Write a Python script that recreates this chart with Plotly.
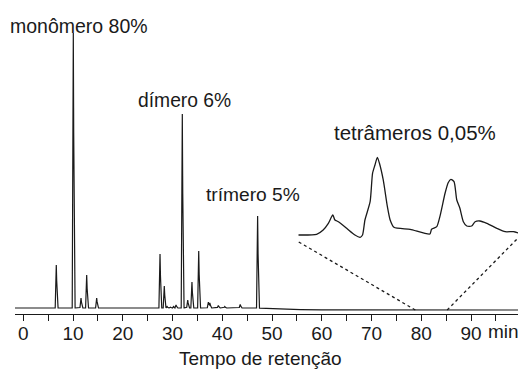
import numpy as np
import plotly.graph_objects as go

# ---------------- data ----------------
peak_times = [6.63, 10.05, 11.6, 12.74, 14.75, 27.48, 28.34, 28.9, 29.6, 30.2, 30.7,
              31.96, 33.05, 33.9, 35.26, 37.2, 37.5, 39.2, 40.5, 43.6, 47.1]
peak_heights = [43, 275, 10, 33, 10, 54, 22, 1.5, 1, 1.5, 3,
                194, 8, 26, 57, 6, 5, 2.5, 1.5, 3.5, 92]

baseline_t = [-1.7, 47.0, 50.0, 55.0, 62.0, 100.0]
baseline_v = [0.0, 0.0, -0.8, -1.5, -2.0, -2.0]

inset_t = [78.80, 79.33, 79.52, 79.67, 79.80, 79.86, 79.96, 80.20, 80.44, 80.59,
           80.66, 80.73, 80.88, 80.95, 81.02, 81.09, 81.15, 81.26, 81.38, 81.46,
           81.57, 82.04, 82.61, 82.66, 82.81, 82.90, 83.05, 83.14, 83.22, 83.31,
           83.39, 83.48, 83.58, 83.68, 83.82, 83.92, 84.06, 84.26, 84.55, 84.79,
           85.03, 85.20]
inset_v = [6.7, 7.4, 11.7, 18.4, 26.7, 21.7, 20.0, 13.4, 6.7, 4.4,
           6.7, 21.7, 40.0, 68.4, 76.7, 84.4, 78.4, 61.7, 35.0, 21.7,
           14.4, 12.4, 7.7, 12.4, 15.0, 25.0, 48.4, 59.0, 62.4, 60.0,
           41.7, 33.4, 20.0, 15.7, 15.7, 20.0, 20.7, 18.4, 13.4, 10.0,
           10.0, 8.4]

zoom_window = [78.8, 85.2]

labels = ["monômero 80%", "dímero 6%", "trímero 5%", "tetrâmeros 0,05%"]
label_t = [11.1, 32.3, 46.2, 78.7]
label_v = [282, 207.3, 114, 175.7]

tick_vals = [0, 10, 20, 30, 40, 50, 60, 70, 80, 90]
x_title = "Tempo de retenção"
unit_label = "min"

# ---------------- layout constants ----------------
# the page body adds an 8px margin, so the figure is 8px smaller than the window
W, H = 518, 361
ML, MR, MT, MB = 7, 6, 0, 55
XR = [-1.67, 99.84]
YR = [-6, 300]
INSET_XDOM = [0.561, 0.9986]
INSET_YDOM = [0.2363, 0.536]
INSET_YR = [0, 91.7]
FONT = "Liberation Sans, Arial, Helvetica, sans-serif"
INK = "#1a1a1a"
HW = 0.22  # half width of peaks (min)
LABEL_SIZES = [19.5, 19.3, 19.2, 20.5]

# ---------------- build chromatogram ----------------
grid = np.arange(XR[0], XR[1] + 0.001, 0.02)
extra = []
for t in peak_times:
    extra += [t - HW, t, t + HW]
tt = np.unique(np.concatenate([grid, np.array(extra)]))
yy = np.interp(tt, baseline_t, baseline_v)
for t, h in zip(peak_times, peak_heights):
    yy = yy + np.clip(h * (1 - np.abs(tt - t) / HW), 0, None)

fig = go.Figure()
fig.add_trace(go.Scatter(x=tt, y=yy, mode="lines",
                         line=dict(color=INK, width=1.2), hoverinfo="skip",
                         showlegend=False))
fig.add_trace(go.Scatter(x=inset_t, y=inset_v, mode="lines",
                         line=dict(color=INK, width=1.3, shape="spline", smoothing=0.6),
                         xaxis="x2", yaxis="y2", hoverinfo="skip", showlegend=False))

# connectors (dotted) from main axis window to inset corners
def main_paper(t, v):
    return ((t - XR[0]) / (XR[1] - XR[0]), (v - YR[0]) / (YR[1] - YR[0]))

def inset_paper(t, v):
    px = INSET_XDOM[0] + (t - zoom_window[0]) / (zoom_window[1] - zoom_window[0]) * (INSET_XDOM[1] - INSET_XDOM[0])
    py = INSET_YDOM[0] + (v - INSET_YR[0]) / (INSET_YR[1] - INSET_YR[0]) * (INSET_YDOM[1] - INSET_YDOM[0])
    return px, py

ends_v = [0, 5]
for t, ev in zip(zoom_window, ends_v):
    b = float(np.interp(t, baseline_t, baseline_v))
    x0, y0 = main_paper(t, b)
    x1, y1 = inset_paper(t, ev)
    fig.add_shape(type="line", xref="paper", yref="paper", x0=x0, y0=y0, x1=x1, y1=y1,
                  line=dict(color=INK, width=1.3, dash="dot"))

for txt, t, v, s in zip(labels, label_t, label_v, LABEL_SIZES):
    fig.add_annotation(x=t, y=v, xref="x", yref="y", text=txt, showarrow=False,
                       xanchor="center", yanchor="middle",
                       font=dict(family=FONT, size=s, color=INK))

fig.add_annotation(x=1.0, y=-0.0588, xref="paper", yref="paper", text=unit_label,
                   showarrow=False, xanchor="right", yanchor="middle", borderpad=0,
                   font=dict(family=FONT, size=19, color=INK))
fig.add_annotation(x=0.4854, y=-0.147, xref="paper", yref="paper", text=x_title,
                   showarrow=False, xanchor="center", yanchor="middle", borderpad=0,
                   font=dict(family=FONT, size=19, color=INK))

fig.update_layout(
    width=W, height=H,
    margin=dict(l=ML, r=MR, t=MT, b=MB),
    paper_bgcolor="white", plot_bgcolor="white",
    font=dict(family=FONT, size=19, color=INK),
    xaxis=dict(range=XR, showgrid=False, zeroline=False, showline=True,
               linecolor=INK, linewidth=1.2, ticks="outside", ticklen=6,
               tickwidth=1.2, tickcolor=INK, tickvals=tick_vals,
               ticklabelstandoff=-4,
               tickfont=dict(family=FONT, size=19, color=INK),
               minor=dict(dtick=5, tick0=0, ticks="outside", ticklen=6,
                          tickwidth=1.2, tickcolor=INK, showgrid=False)),
    yaxis=dict(range=YR, visible=False, showgrid=False, zeroline=False),
    xaxis2=dict(domain=INSET_XDOM, range=zoom_window, visible=False,
                anchor="y2", showgrid=False, zeroline=False),
    yaxis2=dict(domain=INSET_YDOM, range=INSET_YR, visible=False,
                anchor="x2", showgrid=False, zeroline=False),
)

fig.write_html("out.html")
